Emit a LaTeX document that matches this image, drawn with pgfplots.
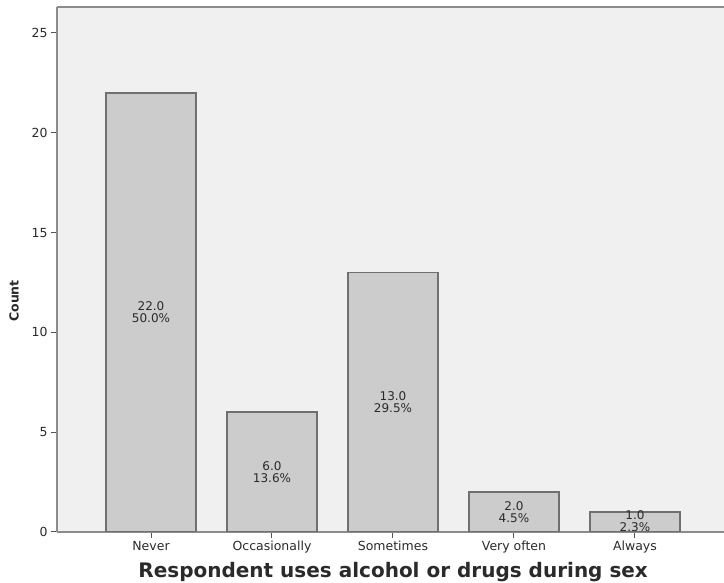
\documentclass[border=0pt]{standalone}
\usepackage{pgfplots}
\pgfplotsset{compat=1.18}
\usepackage{fontspec}
\setmainfont{DejaVu Sans}
\definecolor{bgc}{HTML}{F0F0F0}
\definecolor{barc}{HTML}{CCCCCC}
\definecolor{baredge}{HTML}{707070}
\definecolor{framec}{HTML}{8C8C8C}
\definecolor{txtc}{HTML}{2A2A2A}
\begin{document}
\begin{tikzpicture}[x=1bp,y=1bp]
\path[use as bounding box] (0,0) rectangle (724,583);
\begin{axis}[
  at={(57bp,51bp)}, anchor=south west,
  scale only axis, width=667bp, height=525bp,
  xmin=-0.777, xmax=4.736, ymin=0, ymax=26.3,
  axis background/.style={fill=bgc},
  axis lines=left,
  axis line style={-, draw=framec, line width=2bp},
  xtick={0,1,2,3,4},
  xticklabels={\strut Never,\strut Occasionally,\strut Sometimes,\strut Very often,\strut Always},
  ytick={0,5,10,15,20,25},
  tick align=outside,
  major tick length=6bp,
  tick style={draw=txtc!80, line width=1bp},
  /pgf/number format/assume math mode=true,
  ticklabel style={font=\fontsize{12.5bp}{14bp}\selectfont, text=txtc},
  xticklabel style={yshift=1bp},
  xlabel={Respondent uses alcohol or drugs during sex},
  ylabel={Count},
  xlabel style={font=\bfseries\fontsize{20bp}{22bp}\selectfont, text=txtc,
    at={(axis description cs:0.504,0)}, anchor=center, yshift=-40bp},
  ylabel style={font=\bfseries\fontsize{12.5bp}{14bp}\selectfont, text=txtc,
    at={(axis description cs:-0.0645,0.44)}, anchor=center, rotate=0},
]
\addplot[ybar, fill=barc, draw=baredge, line width=1.5bp, bar width=90bp]
  coordinates {(0,22) (1,6) (2,13) (3,2) (4,1)};
\addplot[only marks, mark=none, point meta=explicit symbolic,
  nodes near coords={\pgfplotspointmeta},
  every node near coord/.append style={anchor=center, align=center,
    font=\fontsize{12bp}{12bp}\selectfont, text=txtc, inner sep=0pt}]
  coordinates {(0,11) [22.0\\50.0\%] (1,3) [6.0\\13.6\%] (2,6.5) [13.0\\29.5\%] (3,1) [2.0\\4.5\%] (4,0.55) [1.0\\2.3\%]};
\draw[framec, line width=2bp] (rel axis cs:0,1) -- (rel axis cs:1,1);
\end{axis}
\end{tikzpicture}
\end{document}
